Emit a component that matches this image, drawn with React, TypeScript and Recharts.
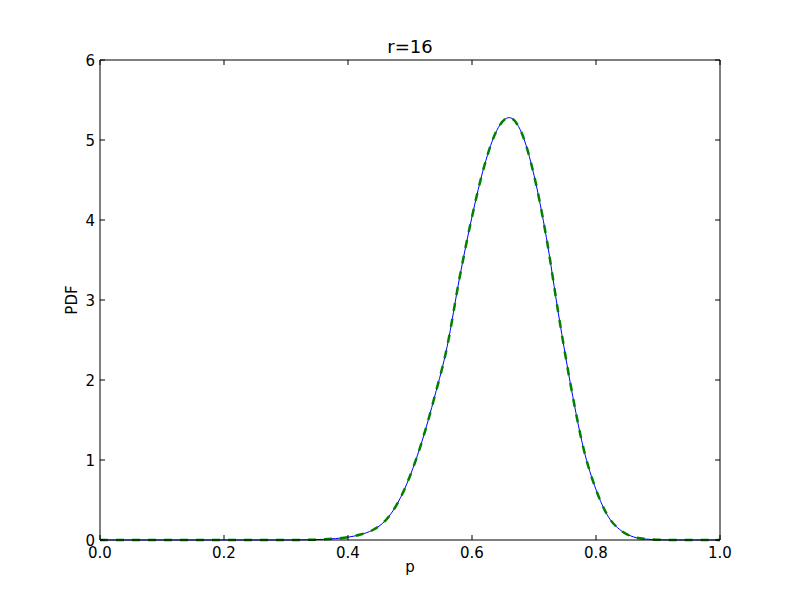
import React from 'react';
import { LineChart, Line, XAxis, YAxis, Customized } from 'recharts';

const pValues = [
  0.0, 0.02, 0.04, 0.06, 0.08, 0.1, 0.12, 0.14, 0.16, 0.18, 0.2, 0.22, 0.24, 0.26, 0.28, 0.3,
  0.32, 0.34, 0.36, 0.38, 0.4, 0.42, 0.44, 0.46, 0.48, 0.5, 0.52, 0.54, 0.56, 0.58, 0.6,
  0.62, 0.64, 0.66, 0.68, 0.7, 0.72, 0.74, 0.76, 0.78, 0.8, 0.82, 0.84, 0.86, 0.88, 0.9,
  0.92, 0.94, 0.96, 0.98, 1.0,
];
const pdfValues = [
  0, 0, 0, 0, 0, 0, 0, 0, 0, 0, 0, 0, 0, 0, 0, 0,
  0.001, 0.003, 0.008, 0.018, 0.035, 0.068, 0.125, 0.24, 0.46, 0.8, 1.25, 1.8, 2.42, 3.28, 4.04,
  4.68, 5.12, 5.28, 5.09, 4.56, 3.78, 2.8, 1.9, 1.14, 0.63, 0.29, 0.12, 0.04, 0.012, 0.003,
  0, 0, 0, 0, 0,
];
const fitValues = [
  0, 0, 0, 0, 0, 0, 0, 0, 0, 0, 0, 0, 0, 0, 0, 0,
  0.001, 0.003, 0.008, 0.018, 0.035, 0.068, 0.125, 0.24, 0.46, 0.8, 1.25, 1.8, 2.42, 3.28, 4.04,
  4.68, 5.12, 5.28, 5.09, 4.56, 3.78, 2.8, 1.9, 1.14, 0.63, 0.29, 0.12, 0.04, 0.012, 0.003,
  0, 0, 0, 0, 0,
];
const xTicks = [0, 0.2, 0.4, 0.6, 0.8, 1.0];
const yTicks = [0, 1, 2, 3, 4, 5, 6];
const titleText = 'r=16';
const xLabel = 'p';
const yLabel = 'PDF';

const data = pValues.map((p, i) => ({ p, pdf: pdfValues[i], fit: fitValues[i] }));

const FONT = 'DejaVu Sans, sans-serif';
const TICK_LEN = 5;

const BottomTick = (props: any) => {
  const { x, y, payload } = props;
  return (
    <g>
      <line x1={x} y1={y} x2={x} y2={y - TICK_LEN} stroke="#000" strokeWidth={1} />
      <text x={x} y={y + 18} textAnchor="middle" fontSize={15} fontFamily={FONT} fill="#000">
        {Number(payload.value).toFixed(1)}
      </text>
    </g>
  );
};
const TopTick = (props: any) => {
  const { x, y } = props;
  return <line x1={x} y1={y} x2={x} y2={y + TICK_LEN} stroke="#000" strokeWidth={1} />;
};
const LeftTick = (props: any) => {
  const { x, y, payload } = props;
  return (
    <g>
      <line x1={x} y1={y} x2={x + TICK_LEN} y2={y} stroke="#000" strokeWidth={1} />
      <text x={x - 5} y={y + 5.5} textAnchor="end" fontSize={15} fontFamily={FONT} fill="#000">
        {String(payload.value)}
      </text>
    </g>
  );
};
const RightTick = (props: any) => {
  const { x, y } = props;
  return <line x1={x} y1={y} x2={x - TICK_LEN} y2={y} stroke="#000" strokeWidth={1} />;
};

const Texts = () => (
  <g fontFamily={FONT} fill="#000">
    <text x={410} y={53} textAnchor="middle" fontSize={18}>{titleText}</text>
    <text x={410} y={572} textAnchor="middle" fontSize={15}>{xLabel}</text>
    <text x={77} y={300} textAnchor="middle" fontSize={15} transform="rotate(-90 77 300)">{yLabel}</text>
  </g>
);

export default function App() {
  return (
    <div style={{ position: 'absolute', left: 0, top: 0, width: 800, height: 600, background: '#fff' }}>
      <LineChart width={800} height={600} data={data} margin={{ top: 59, right: 79, bottom: 0, left: 0 }}>
        <XAxis
          xAxisId="b"
          dataKey="p"
          type="number"
          domain={[0, 1]}
          ticks={xTicks}
          height={60}
          tickSize={0}
          tickMargin={0}
          tickLine={false}
          axisLine={{ stroke: '#000', strokeWidth: 1 }}
          tick={<BottomTick />}
          interval={0}
        />
        <XAxis
          xAxisId="t"
          orientation="top"
          dataKey="p"
          type="number"
          domain={[0, 1]}
          ticks={xTicks}
          height={1}
          tickSize={0}
          tickMargin={0}
          tickLine={false}
          axisLine={{ stroke: '#000', strokeWidth: 1 }}
          tick={<TopTick />}
          interval={0}
        />
        <YAxis
          yAxisId="l"
          type="number"
          domain={[0, 6]}
          ticks={yTicks}
          width={100}
          tickSize={0}
          tickMargin={0}
          tickLine={false}
          axisLine={{ stroke: '#000', strokeWidth: 1 }}
          tick={<LeftTick />}
          interval={0}
        />
        <YAxis
          yAxisId="r"
          orientation="right"
          type="number"
          domain={[0, 6]}
          ticks={yTicks}
          width={1}
          tickSize={0}
          tickMargin={0}
          tickLine={false}
          axisLine={{ stroke: '#000', strokeWidth: 1 }}
          tick={<RightTick />}
          interval={0}
        />
        <Line
          xAxisId="t"
          yAxisId="r"
          type="monotone"
          dataKey="pdf"
          stroke="none"
          strokeWidth={0}
          dot={false}
          activeDot={false}
          legendType="none"
          isAnimationActive={false}
        />
        <Line
          xAxisId="b"
          yAxisId="l"
          type="monotone"
          dataKey="pdf"
          stroke="#0000ff"
          strokeWidth={1}
          dot={false}
          activeDot={false}
          isAnimationActive={false}
        />
        <Line
          xAxisId="b"
          yAxisId="l"
          type="monotone"
          dataKey="fit"
          stroke="#008000"
          strokeWidth={2.5}
          strokeDasharray="8 8"
          dot={false}
          activeDot={false}
          isAnimationActive={false}
        />
        <Customized component={Texts} />
      </LineChart>
    </div>
  );
}
